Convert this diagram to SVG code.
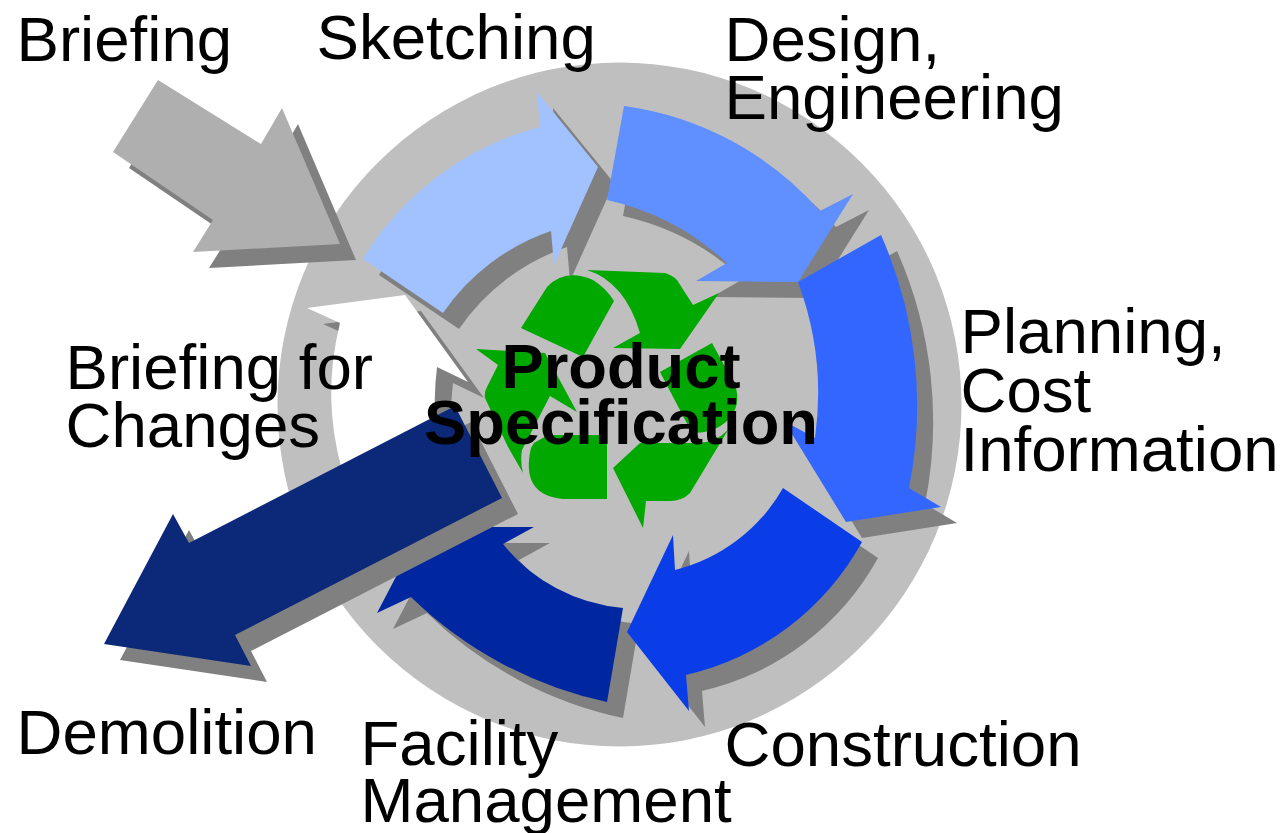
<svg xmlns="http://www.w3.org/2000/svg" xmlns:xlink="http://www.w3.org/1999/xlink" width="1287" height="833" viewBox="0 0 1287 833">
<style>
text{font-family:"Liberation Sans",Arial,sans-serif;font-size:63.6px;fill:#000}
.b{font-weight:bold;font-size:63.3px;text-anchor:middle}
.s{fill:#808080}
</style>
<defs>
<path id="pw" d="M307 308L405 295L468 382L437 367Q433 400 436 430L400 500L350 500L342 470A286 286 0 0 1 340 323Z"/>
<path id="p1" d="M363 259A294 294 0 0 1 540 127L537 92L598 167L554 265L551 231A215 215 0 0 0 443 313Z"/>
<path id="p2" d="M624 106A318 318 0 0 1 820 211L853 194L798 282L696 281L727 263A260 260 0 0 0 607 200Z"/>
<path id="p3" d="M881 235A420 420 0 0 1 909 488L941 507L846 522L784 421L815 438A320 320 0 0 0 798 282Z"/>
<path id="p4" d="M783 488L862 542A270 270 0 0 1 686 675L689 711L627 632L673 535L675 570A172 172 0 0 0 783 488Z"/>
<path id="p5" d="M422 527L534 527L503 544A172 172 0 0 0 623 608L607 702A400 400 0 0 1 411 597L377 613Z"/>
<path id="p6" d="M104 644L251 666L235 635L502 498L455 406L189 543L173 514Z"/>
<path id="p7" d="M158 80L261 144L282 108L340 244L193 252L213 220L113 152Z"/>
</defs>
<circle id="ring" cx="619.5" cy="404.5" r="342" fill="#bfbfbf"/>
<g id="changes"><use href="#pw" class="s" transform="translate(16 16)"/><use href="#pw" fill="#fff"/></g>
<g id="connectors">
<g id="sketching-arrow"><use href="#p1" class="s" transform="translate(16 16)"/><use href="#p1" fill="#a2c1ff"/></g>
<g id="design-arrow"><use href="#p2" class="s" transform="translate(16 16)"/><use href="#p2" fill="#6090ff"/></g>
<g id="planning-arrow"><use href="#p3" class="s" transform="translate(16 16)"/><use href="#p3" fill="#3366ff"/></g>
<g id="facility-arrow"><use href="#p5" class="s" transform="translate(16 16)"/><use href="#p5" fill="#0026a0"/></g>
<g id="construction-arrow"><use href="#p4" class="s" transform="translate(16 16)"/><use href="#p4" fill="#0a3de8"/></g>
<g id="demolition-arrow"><use href="#p6" class="s" transform="translate(16 16)"/><use href="#p6" fill="#0c2878"/></g>
<g id="briefing-arrow"><use href="#p7" class="s" transform="translate(16 16)"/><use href="#p7" fill="#afafaf"/></g>
</g>
<g id="recycle" fill="#00a800">
<path d="M521 328L547 287Q565 268 593 280Q606 288 614 301L583 357Z"/>
<path d="M587 270L665 273Q672 275 677 280L693 305L719 293L680 349L613 348L640 333Q625 282 587 270Z"/>
<path d="M712 343L735 385Q742 405 728 420Q715 433 692 433L660 372Z"/>
<path d="M613 468L640 443L697 443Q715 443 728 430L690 493Q682 501 670 501L646 501L643 528Z"/>
<path d="M607 435L607 499L563 499Q520 495 531 448L534 443L548 435Z"/>
<path d="M476 349L545 353L577 412L550 396L522 450Q520 462 523 473L508 447L485 398Q484 392 487 387L498 365Z"/>
</g>
<g id="labels">
<text x="16.500" y="61">Briefing</text>
<text x="316.500" y="59">Sketching</text>
<text x="724.500" y="61">Design,</text>
<text x="724.500" y="119">Engineering</text>
<text x="960.500" y="353">Planning,</text>
<text x="960.500" y="412">Cost</text>
<text x="960.500" y="471">Information</text>
<text x="724.500" y="766">Construction</text>
<text x="360.500" y="764.500">Facility</text>
<text x="360.500" y="822">Management</text>
<text x="16.500" y="754">Demolition</text>
<text x="65.500" y="389">Briefing for</text>
<text x="65.500" y="447">Changes</text>
<text class="b" x="621" y="387.500">Product</text>
<text class="b" x="621" y="443.500">Specification</text>
</g>
</svg>
